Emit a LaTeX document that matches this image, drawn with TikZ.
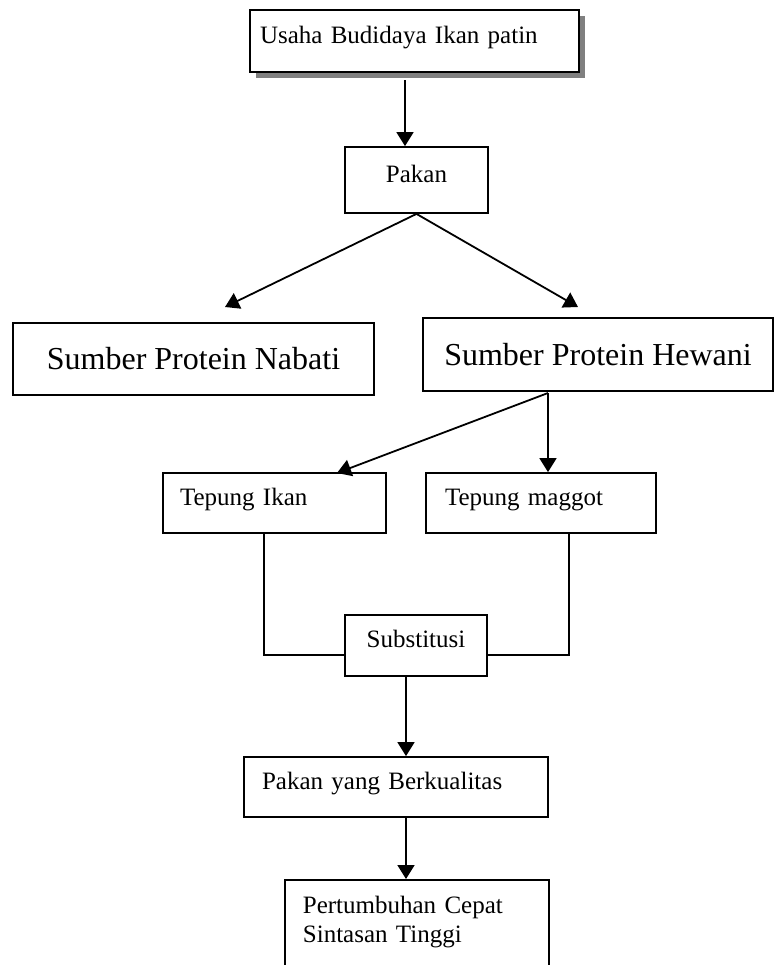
\documentclass[tikz,border=0pt]{standalone}
\usepackage{fontspec}
\setmainfont{Liberation Serif}
\usetikzlibrary{arrows.meta,shadows}
\begin{document}
\begin{tikzpicture}[x=0.5pt,y=-0.5pt,line join=miter,>={Triangle[length=7pt,width=8.5pt]},line width=0.9pt]
\tikzset{kotak/.style={draw,fill=white,inner sep=0pt,text height=9pt,text depth=7pt,font=\fontsize{12.5pt}{14.5pt}\selectfont},
kiri/.style={kotak,align=left,text width=#1},
besar/.style={draw,inner sep=0pt,font=\fontsize{16pt}{19pt}\selectfont}}
\useasboundingbox (0,0) rectangle (775,965);
\node[kiri=154.5pt,inner xsep=5pt,minimum height=31pt,drop shadow={shadow xshift=2.75pt,shadow yshift=-2.75pt,fill=black!50,opacity=1}] (usaha) at (414.5,41) {Usaha Budidaya Ikan patin};
\node[kotak,minimum width=71.5pt,minimum height=33pt] (pakan) at (416.5,180) {Pakan};
\node[besar,minimum width=180.5pt,minimum height=36pt] (nabati) at (193.5,359) {Sumber Protein Nabati};
\node[besar,minimum width=175pt,minimum height=36.5pt] (hewani) at (598,354.5) {Sumber Protein Hewani};
\node[kiri=94.5pt,inner xsep=8.5pt,minimum height=30pt] (ikan) at (274.5,503) {Tepung Ikan};
\node[kiri=96pt,inner xsep=9.5pt,minimum height=30pt] (maggot) at (541,503) {Tepung maggot};
\node[kotak,minimum width=71pt,minimum height=30.5pt] (subst) at (416,645.5) {Substitusi};
\node[kiri=134pt,inner xsep=9pt,minimum height=30pt] (berk) at (396,787) {Pakan yang Berkualitas};
\node[kiri=114pt,inner xsep=9pt,inner ysep=8pt,text depth=50pt,anchor=north west] (hasil) at (284,879) {Pertumbuhan Cepat\\Sintasan Tinggi};
\coordinate (a1) at (405,80);
\draw[->] (a1) -- (a1 |- pakan.north);
\coordinate (p1) at (225,307);
\coordinate (p2) at (578,307);
\draw[->] (pakan.south) -- (p1);
\draw[->] (pakan.south) -- (p2);
\coordinate (h0) at (548,393);
\coordinate (i1) at (337,473);
\draw[->] (h0) -- (i1);
\draw[->] (h0) -- (h0 |- maggot.north);
\coordinate (jL) at (264,655);
\coordinate (jR) at (569,655);
\draw (ikan.south -| jL) -- (jL) -- (jL -| subst.west);
\draw (maggot.south -| jR) -- (jR) -- (jR -| subst.east);
\coordinate (s1) at (406,676);
\draw[->] (subst.south -| s1) -- (s1 |- berk.north);
\draw[->] (s1 |- berk.south) -- (s1 |- hasil.north);
\end{tikzpicture}
\end{document}
